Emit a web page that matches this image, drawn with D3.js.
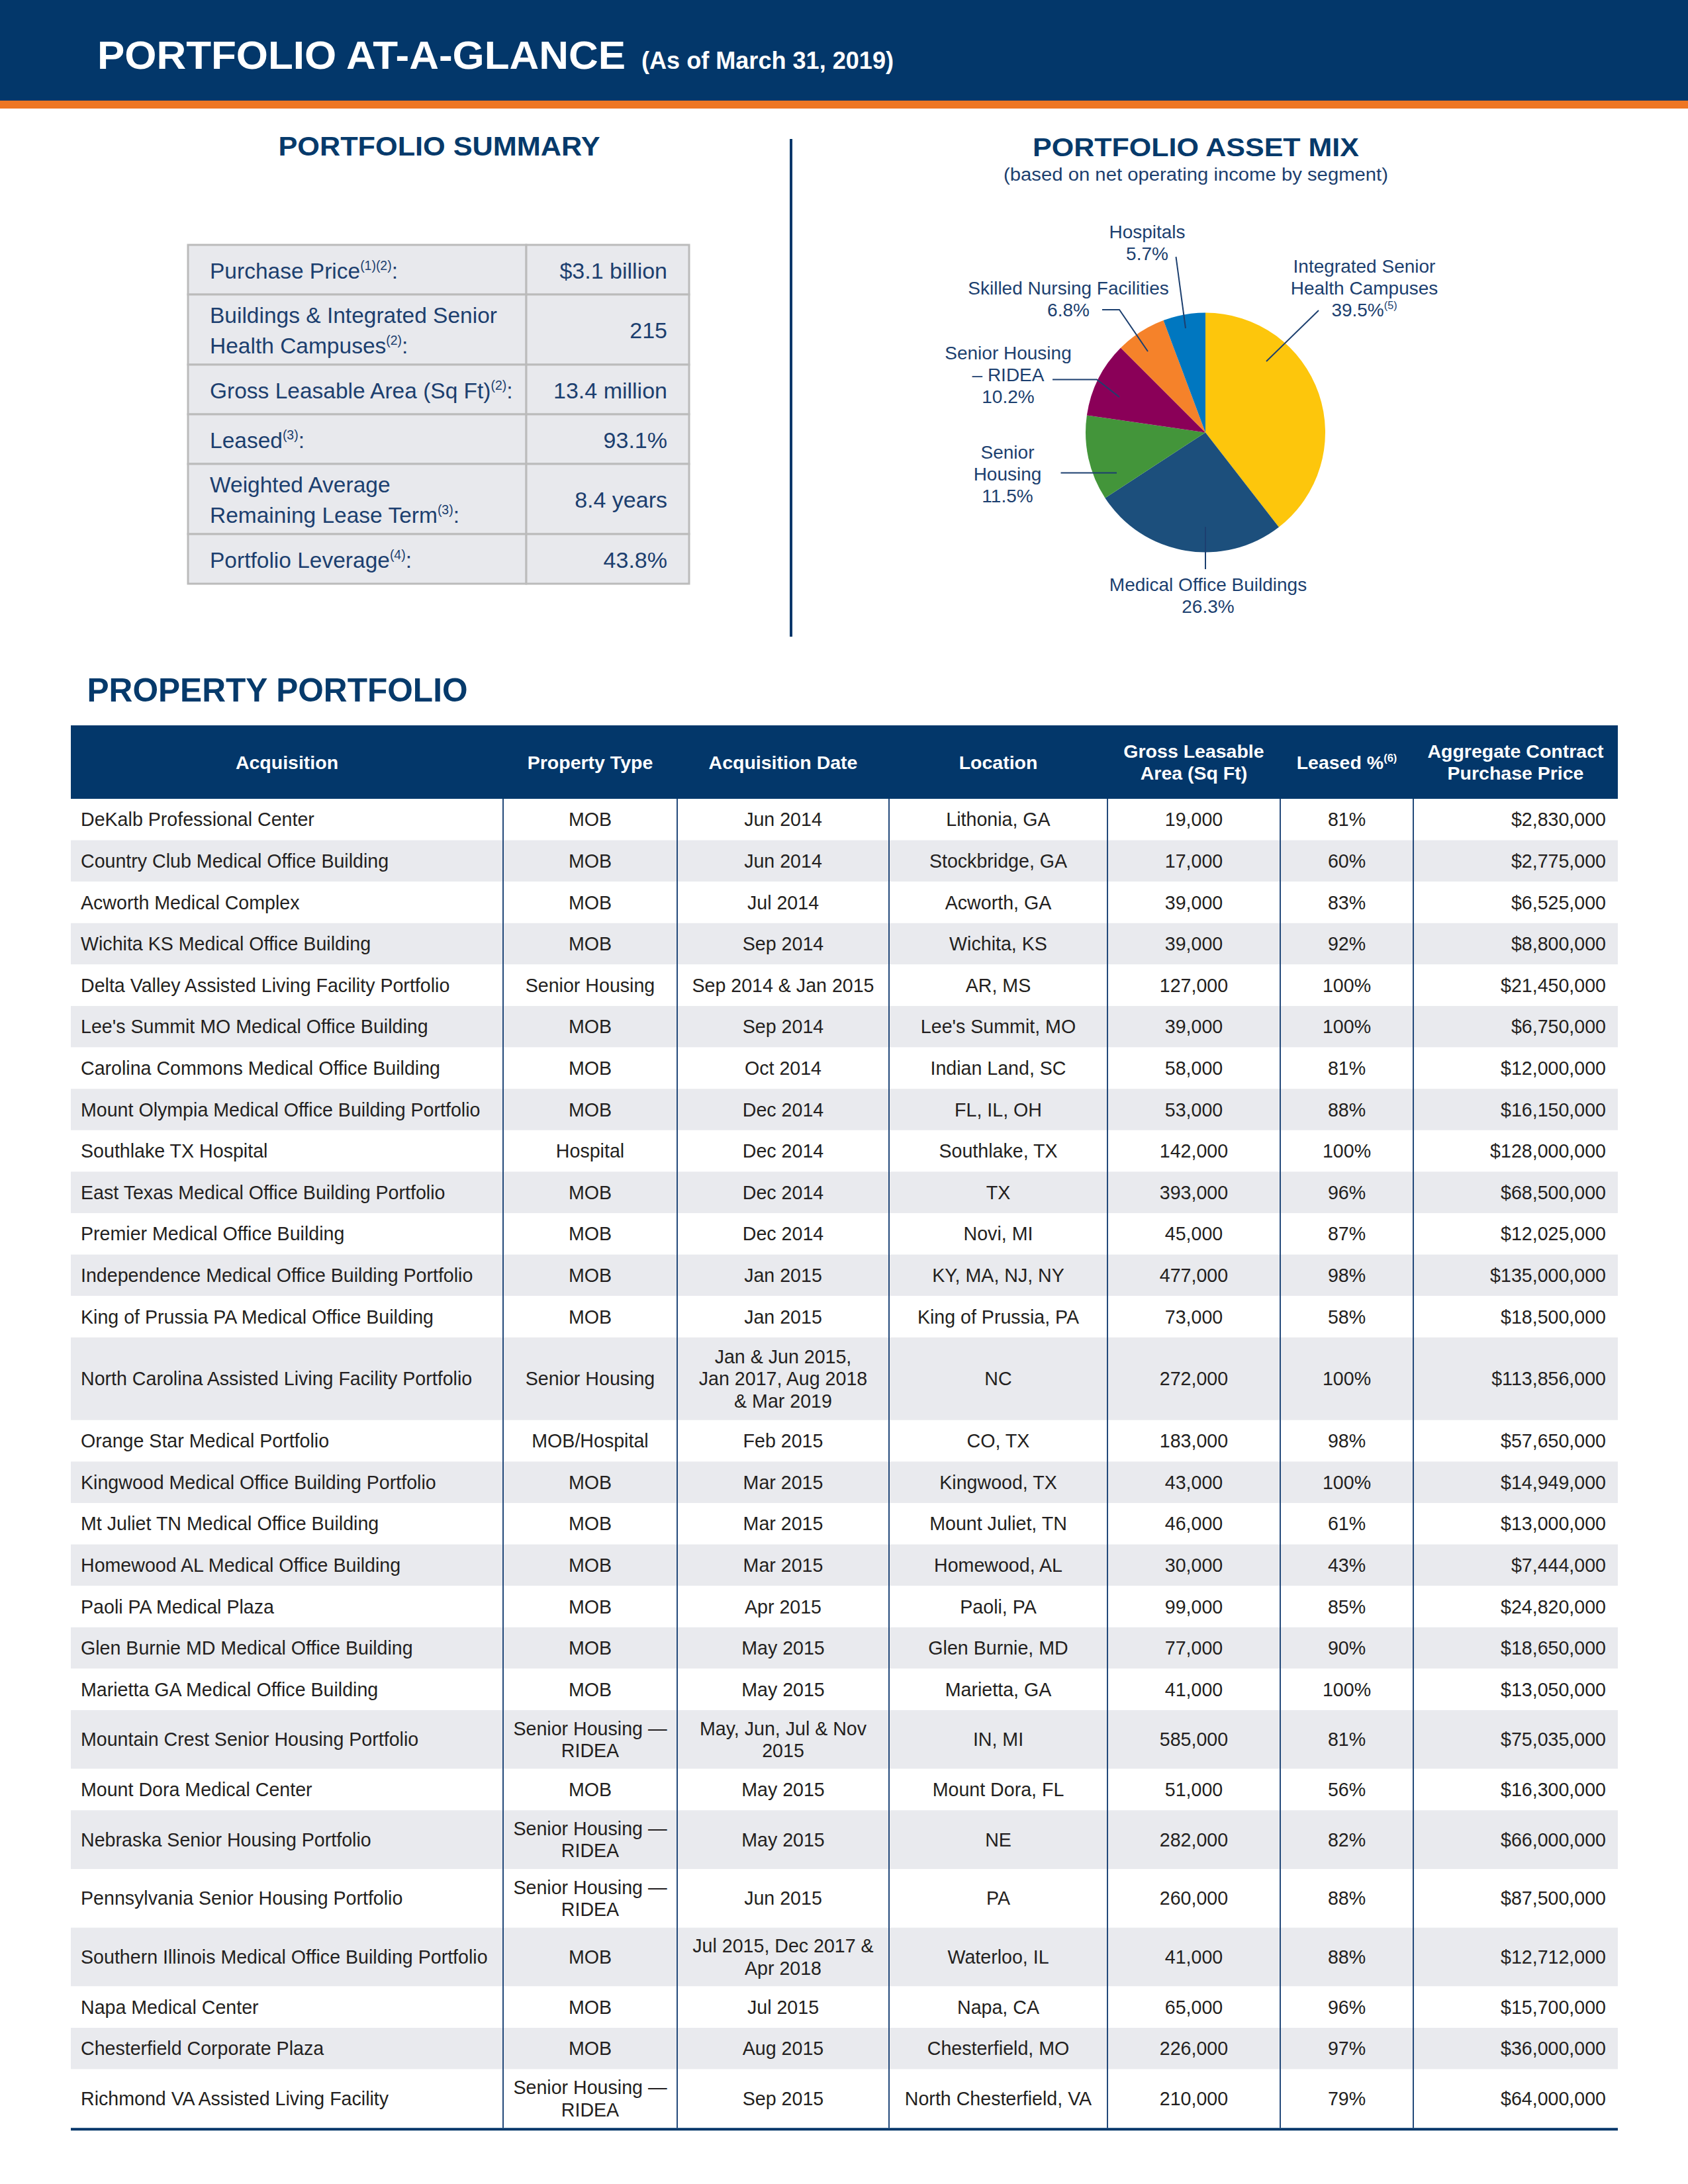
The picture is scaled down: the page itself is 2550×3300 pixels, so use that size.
<!DOCTYPE html>
<html><head><meta charset="utf-8">
<script src="https://cdn.jsdelivr.net/npm/d3@7"></script>
<style>html,body{margin:0;padding:0;background:#fff;} svg{display:block;font-family:"Liberation Sans",Arial,Helvetica,sans-serif;}</style>
</head><body>
<svg id="c" width="2550" height="3300"></svg>
<script>
// ---------------- DATA ----------------
const summaryLabels = [
  "Purchase Price{(1)(2)}:",
  "Buildings & Integrated Senior\nHealth Campuses{(2)}:",
  "Gross Leasable Area (Sq Ft){(2)}:",
  "Leased{(3)}:",
  "Weighted Average\nRemaining Lease Term{(3)}:",
  "Portfolio Leverage{(4)}:"
];
const summaryValues = ["$3.1 billion", "215", "13.4 million", "93.1%", "8.4 years", "43.8%"];

const assetSegments = ["Integrated Senior Health Campuses", "Medical Office Buildings", "Senior Housing",
  "Senior Housing – RIDEA", "Skilled Nursing Facilities", "Hospitals"];
const assetShares = [39.5, 26.3, 11.5, 10.2, 6.8, 5.7];
const assetLabelLines = [
  ["Integrated Senior", "Health Campuses", "39.5%{(5)}"],
  ["Medical Office Buildings", "26.3%"],
  ["Senior", "Housing", "11.5%"],
  ["Senior Housing", "– RIDEA", "10.2%"],
  ["Skilled Nursing Facilities", "6.8%"],
  ["Hospitals", "5.7%"]
];

const tableHeaders = [["Acquisition"], ["Property Type"], ["Acquisition Date"], ["Location"],
  ["Gross Leasable", "Area (Sq Ft)"], ["Leased %{(6)}"], ["Aggregate Contract", "Purchase Price"]];

const acquisitions = [
  "DeKalb Professional Center", "Country Club Medical Office Building", "Acworth Medical Complex",
  "Wichita KS Medical Office Building", "Delta Valley Assisted Living Facility Portfolio",
  "Lee's Summit MO Medical Office Building", "Carolina Commons Medical Office Building",
  "Mount Olympia Medical Office Building Portfolio", "Southlake TX Hospital",
  "East Texas Medical Office Building Portfolio", "Premier Medical Office Building",
  "Independence Medical Office Building Portfolio", "King of Prussia PA Medical Office Building",
  "North Carolina Assisted Living Facility Portfolio", "Orange Star Medical Portfolio",
  "Kingwood Medical Office Building Portfolio", "Mt Juliet TN Medical Office Building",
  "Homewood AL Medical Office Building", "Paoli PA Medical Plaza", "Glen Burnie MD Medical Office Building",
  "Marietta GA Medical Office Building", "Mountain Crest Senior Housing Portfolio", "Mount Dora Medical Center",
  "Nebraska Senior Housing Portfolio", "Pennsylvania Senior Housing Portfolio",
  "Southern Illinois Medical Office Building Portfolio", "Napa Medical Center",
  "Chesterfield Corporate Plaza", "Richmond VA Assisted Living Facility"
];
const propertyTypes = [
  "MOB", "MOB", "MOB", "MOB", "Senior Housing", "MOB", "MOB", "MOB", "Hospital", "MOB", "MOB", "MOB", "MOB",
  "Senior Housing", "MOB/Hospital", "MOB", "MOB", "MOB", "MOB", "MOB", "MOB",
  "Senior Housing —\nRIDEA", "MOB", "Senior Housing —\nRIDEA", "Senior Housing —\nRIDEA", "MOB", "MOB", "MOB",
  "Senior Housing —\nRIDEA"
];
const acquisitionDates = [
  "Jun 2014", "Jun 2014", "Jul 2014", "Sep 2014", "Sep 2014 & Jan 2015", "Sep 2014", "Oct 2014", "Dec 2014",
  "Dec 2014", "Dec 2014", "Dec 2014", "Jan 2015", "Jan 2015", "Jan & Jun 2015,\nJan 2017, Aug 2018\n& Mar 2019",
  "Feb 2015", "Mar 2015", "Mar 2015", "Mar 2015", "Apr 2015", "May 2015", "May 2015",
  "May, Jun, Jul & Nov\n2015", "May 2015", "May 2015", "Jun 2015", "Jul 2015, Dec 2017 &\nApr 2018",
  "Jul 2015", "Aug 2015", "Sep 2015"
];
const locations = [
  "Lithonia, GA", "Stockbridge, GA", "Acworth, GA", "Wichita, KS", "AR, MS", "Lee's Summit, MO",
  "Indian Land, SC", "FL, IL, OH", "Southlake, TX", "TX", "Novi, MI", "KY, MA, NJ, NY", "King of Prussia, PA",
  "NC", "CO, TX", "Kingwood, TX", "Mount Juliet, TN", "Homewood, AL", "Paoli, PA", "Glen Burnie, MD",
  "Marietta, GA", "IN, MI", "Mount Dora, FL", "NE", "PA", "Waterloo, IL", "Napa, CA", "Chesterfield, MO",
  "North Chesterfield, VA"
];
const glaSqFt = [19000, 17000, 39000, 39000, 127000, 39000, 58000, 53000, 142000, 393000, 45000, 477000, 73000,
  272000, 183000, 43000, 46000, 30000, 99000, 77000, 41000, 585000, 51000, 282000, 260000, 41000, 65000,
  226000, 210000];
const leasedPct = [81, 60, 83, 92, 100, 100, 81, 88, 100, 96, 87, 98, 58, 100, 98, 100, 61, 43, 85, 90, 100,
  81, 56, 82, 88, 88, 96, 97, 79];
const purchasePrice = [2830000, 2775000, 6525000, 8800000, 21450000, 6750000, 12000000, 16150000, 128000000,
  68500000, 12025000, 135000000, 18500000, 113856000, 57650000, 14949000, 13000000, 7444000, 24820000,
  18650000, 13050000, 75035000, 16300000, 66000000, 87500000, 12712000, 15700000, 36000000, 64000000];

// ---------------- STYLE / LAYOUT ----------------
const NAVY = "#03376a";
const TITLE_NAVY = "#063a6b";
const TXT_NAVY = "#1c3f6f";
const BODY = "#231f20";
const ORANGE = "#ee7623";
const assetColors = ["#fdc60c", "#1c4f7c", "#43953a", "#8a0058", "#f5822a", "#0077c0"];
// label anchors & leader polylines, relative to the pie centre
const assetLabelLayout = [
  {dx: 240, dy: -242, leader: [[171, -184.5], [92, -107.5]]},
  {dx: 4, dy: 239.5, leader: [[0, 142.5], [0, 206.5]]},
  {dx: -299, dy: 39.5, leader: [[-218.5, 61], [-134, 61]]},
  {dx: -298, dy: -110.5, leader: [[-231, -80], [-164, -80], [-130, -53.5]]},
  {dx: -207, dy: -208.5, leader: [[-156, -185.5], [-130, -185.5], [-87, -122.5]]},
  {dx: -88, dy: -293.5, leader: [[-44.5, -265.5], [-30, -157.5]]}
];

const svg = d3.select("#c");

function richText(sel, str, fs) {
  const parts = str.split(/(\{[^}]*\})/).filter(s => s.length);
  let raised = false;
  parts.forEach(p => {
    if (p[0] === "{") {
      sel.append("tspan").attr("font-size", fs * 0.58).attr("dy", -fs * 0.38).text(p.slice(1, -1));
      raised = true;
    } else {
      const t = sel.append("tspan").text(p);
      if (raised) { t.attr("dy", fs * 0.38); raised = false; }
    }
  });
}

// ---------------- HEADER BAND ----------------
svg.append("rect").attr("x", 0).attr("y", 0).attr("width", 2550).attr("height", 152).attr("fill", NAVY);
svg.append("rect").attr("x", 0).attr("y", 152).attr("width", 2550).attr("height", 12).attr("fill", ORANGE);
svg.append("text").attr("x", 147).attr("y", 104).attr("fill", "#fff").attr("font-size", 60)
  .attr("font-weight", "bold").attr("textLength", 798).attr("lengthAdjust", "spacingAndGlyphs")
  .text("PORTFOLIO AT-A-GLANCE");
svg.append("text").attr("x", 969).attr("y", 104).attr("fill", "#fff").attr("font-size", 37)
  .attr("font-weight", "bold").attr("textLength", 381).attr("lengthAdjust", "spacingAndGlyphs")
  .text("(As of March 31, 2019)");

// ---------------- SECTION TITLES ----------------
svg.append("text").attr("x", 663.5).attr("y", 235).attr("text-anchor", "middle").attr("fill", TITLE_NAVY)
  .attr("font-size", 40).attr("font-weight", "bold").attr("textLength", 486).attr("lengthAdjust", "spacingAndGlyphs")
  .text("PORTFOLIO SUMMARY");
svg.append("text").attr("x", 1806.5).attr("y", 236).attr("text-anchor", "middle").attr("fill", TITLE_NAVY)
  .attr("font-size", 39).attr("font-weight", "bold").attr("textLength", 493).attr("lengthAdjust", "spacingAndGlyphs")
  .text("PORTFOLIO ASSET MIX");
svg.append("text").attr("x", 1806.5).attr("y", 273).attr("text-anchor", "middle").attr("fill", TXT_NAVY)
  .attr("font-size", 27).attr("textLength", 581).attr("lengthAdjust", "spacingAndGlyphs")
  .text("(based on net operating income by segment)");
svg.append("line").attr("x1", 1195).attr("x2", 1195).attr("y1", 210).attr("y2", 962)
  .attr("stroke", NAVY).attr("stroke-width", 4);

// ---------------- SUMMARY TABLE ----------------
(function () {
  const x0 = 284, xm = 795, x1 = 1041;
  const hFor = n => (n === 1 ? 75 : 106);
  let y = 370;
  const g = svg.append("g");
  summaryLabels.forEach((lab, i) => {
    const lines = lab.split("\n");
    const h = hFor(lines.length);
    g.append("rect").attr("x", x0).attr("y", y).attr("width", xm - x0).attr("height", h)
      .attr("fill", "#e8e9ed").attr("stroke", "#bbbbbb").attr("stroke-width", 3);
    g.append("rect").attr("x", xm).attr("y", y).attr("width", x1 - xm).attr("height", h)
      .attr("fill", "#e8e9ed").attr("stroke", "#bbbbbb").attr("stroke-width", 3);
    const cy = y + h / 2;
    lines.forEach((ln, k) => {
      const by = cy + 13 + (k - (lines.length - 1) / 2) * 46;
      const t = g.append("text").attr("x", 317).attr("y", by).attr("fill", TXT_NAVY).attr("font-size", 33.5);
      richText(t, ln, 33.5);
    });
    g.append("text").attr("x", 1008).attr("y", cy + 13).attr("text-anchor", "end").attr("fill", TXT_NAVY)
      .attr("font-size", 34).text(summaryValues[i]);
    y += h;
  });
})();

// ---------------- PIE ----------------
(function () {
  const cx = 1821, cy = 653.5, r = 181;
  const segData = assetSegments.map((name, i) => ({name, v: assetShares[i], i}));
  const pie = d3.pie().sort(null).value(d => d.v).startAngle(0).endAngle(2 * Math.PI);
  const arc = d3.arc().innerRadius(0).outerRadius(r);
  const g = svg.append("g").attr("transform", `translate(${cx},${cy})`);
  g.selectAll("path.slice").data(pie(segData)).join("path").attr("class", "slice")
    .attr("d", arc).attr("fill", d => assetColors[d.data.i]);
  const line = d3.line();
  assetLabelLayout.forEach((L, i) => {
    g.append("path").attr("d", line(L.leader)).attr("fill", "none").attr("stroke", TXT_NAVY).attr("stroke-width", 2);
    assetLabelLines[i].forEach((ln, k) => {
      const t = g.append("text").attr("x", L.dx).attr("y", L.dy + k * 33).attr("text-anchor", "middle")
        .attr("fill", TXT_NAVY).attr("font-size", 28);
      richText(t, ln, 28);
    });
  });
})();

// ---------------- PROPERTY PORTFOLIO ----------------
svg.append("text").attr("x", 131.5).attr("y", 1060).attr("fill", TITLE_NAVY).attr("font-size", 50)
  .attr("font-weight", "bold").attr("textLength", 575).attr("lengthAdjust", "spacingAndGlyphs")
  .text("PROPERTY PORTFOLIO");

(function () {
  const colEdges = [107, 760, 1023, 1343, 1673, 1934, 2135, 2444];
  const aligns = ["start", "middle", "middle", "middle", "middle", "middle", "end"];
  const colX = (c) => aligns[c] === "start" ? colEdges[c] + 15 :
    aligns[c] === "end" ? colEdges[c + 1] - 18 : (colEdges[c] + colEdges[c + 1]) / 2;
  const headTop = 1096, headBot = 1207;
  const g = svg.append("g");
  g.append("rect").attr("x", colEdges[0]).attr("y", headTop).attr("width", colEdges[7] - colEdges[0])
    .attr("height", headBot - headTop).attr("fill", NAVY);
  tableHeaders.forEach((lines, c) => {
    lines.forEach((ln, k) => {
      const by = (headTop + headBot) / 2 + 10 + (k - (lines.length - 1) / 2) * 33;
      const t = g.append("text").attr("x", (colEdges[c] + colEdges[c + 1]) / 2).attr("y", by)
        .attr("text-anchor", "middle").attr("fill", "#fff").attr("font-size", 28.5).attr("font-weight", "bold");
      richText(t, ln, 28.5);
    });
  });

  const fmtN = d3.format(",");
  const fmtP = d3.format("$,");
  const rows = acquisitions.map((a, i) => [a, propertyTypes[i], acquisitionDates[i], locations[i],
    fmtN(glaSqFt[i]), leasedPct[i] + "%", fmtP(purchasePrice[i])]);
  const rowH = {1: 62.6, 2: 88.7, 3: 125};
  let y = headBot;
  rows.forEach((cells, i) => {
    const nLines = d3.max(cells, s => String(s).split("\n").length);
    const h = rowH[nLines];
    g.append("rect").attr("x", colEdges[0]).attr("y", y).attr("width", colEdges[7] - colEdges[0])
      .attr("height", h).attr("fill", i % 2 ? "#e9eaee" : "#ffffff");
    const cy = y + h / 2;
    cells.forEach((s, c) => {
      const lines = String(s).split("\n");
      lines.forEach((ln, k) => {
        g.append("text").attr("x", colX(c)).attr("y", cy + 10 + (k - (lines.length - 1) / 2) * 33.5)
          .attr("text-anchor", aligns[c]).attr("fill", BODY).attr("font-size", 28.6).text(ln);
      });
    });
    y += h;
  });
  const bottom = y;
  colEdges.slice(1, 7).forEach(xe => {
    g.append("line").attr("x1", xe).attr("x2", xe).attr("y1", headBot).attr("y2", bottom)
      .attr("stroke", "#23497a").attr("stroke-width", 2);
  });
  g.append("line").attr("x1", colEdges[0]).attr("x2", colEdges[7]).attr("y1", bottom + 2).attr("y2", bottom + 2)
    .attr("stroke", NAVY).attr("stroke-width", 4);
})();
</script>
</body></html>
